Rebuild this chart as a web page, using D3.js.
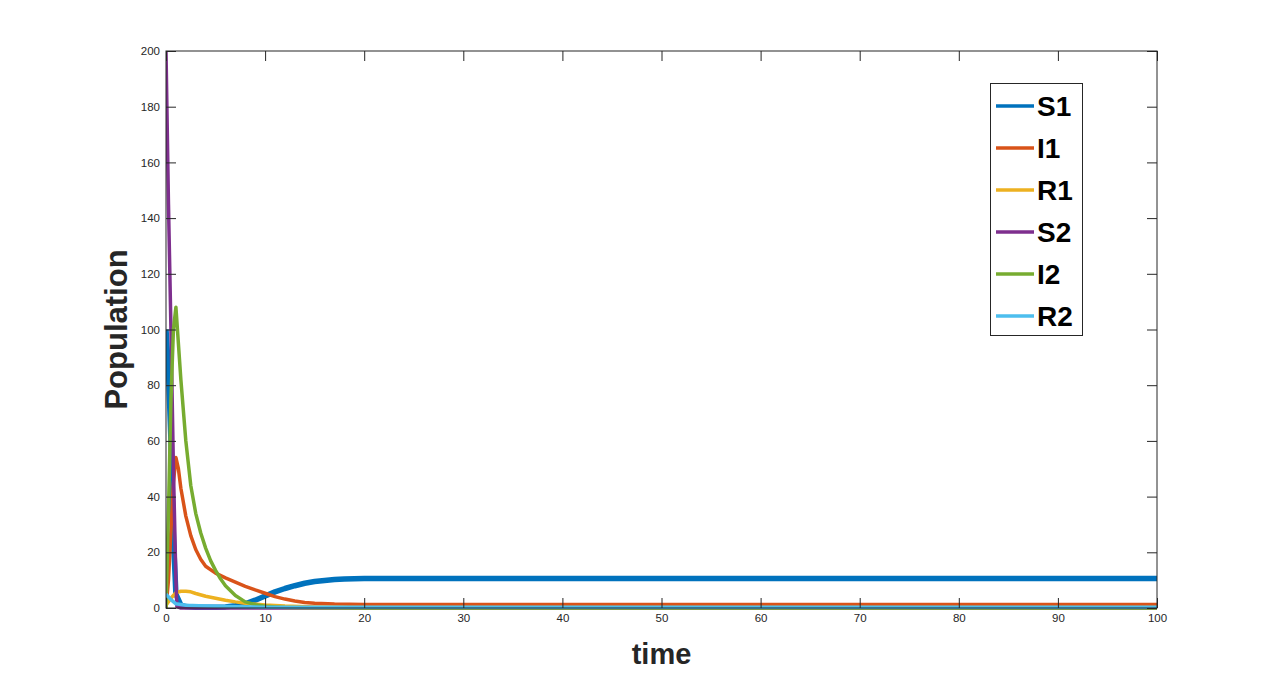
<!DOCTYPE html>
<html>
<head>
<meta charset="utf-8">
<script src="https://cdn.jsdelivr.net/npm/d3@7"></script>
<style>
  body { margin: 0; background: #fff; }
  svg { display: block; font-family: Arial, "Liberation Sans", sans-serif; }
</style>
</head>
<body>
<div id="chart"></div>
<script>
// values (time, population)
const s1 = [[0,100],[0.25,85],[0.5,60],[0.75,25],[1,5],[1.5,1],[2,0.5],[3,0.3],[5,0.3],[6,0.4],[7,0.8],[8,1.5],[9,2.8],[10,4.3],[11,5.8],[12,7],[13,8],[14,8.9],[15,9.5],[16,9.9],[17,10.2],[18,10.4],[20,10.55],[25,10.6],[100,10.6]];
const i1 = [[0,0],[0.25,10],[0.5,28],[0.75,45],[1,54],[1.25,50],[1.5,43],[2,33],[2.5,26],[3,21],[3.5,17.5],[4,15],[5,12.5],[6,10.8],[7,9.3],[8,7.8],[9,6.5],[10,5.3],[11,4.1],[12,3.2],[13,2.5],[14,2],[15,1.7],[17,1.4],[20,1.3],[100,1.3]];
const r1 = [[0,1],[0.5,3.5],[1,5.5],[1.5,6],[2,6],[2.5,5.8],[3,5.2],[4,4.2],[5,3.5],[6,2.8],[7,2.2],[8,1.7],[10,1.1],[12,0.7],[15,0.4],[20,0.2],[100,0.2]];
const s2 = [[0,200],[0.25,145],[0.5,100],[0.75,50],[1,10],[1.1,0.5],[1.5,0],[100,0]];
const i2 = [[0,0],[0.25,35],[0.5,75],[0.75,100],[1,108],[1.5,82],[2,60],[2.5,44],[3,34],[3.5,27],[4,21.5],[4.5,17],[5,13.5],[5.5,10.5],[6,8],[7,4.5],[8,2.2],[9,1.2],[10,0.6],[12,0.2],[15,0.05],[20,0],[100,0]];
const r2 = [[0,5],[0.5,3],[1,1.5],[2,1],[4,0.7],[6,0.5],[10,0.3],[100,0.3]];

const names = ["S1","I1","R1","S2","I2","R2"];
const colors = ["#0072BD","#D95319","#EDB120","#7E2F8E","#77AC30","#4DBEEE"];
const series = [s1, i1, r1, s2, i2, r2];
const xTicks = d3.range(0, 101, 10);
const yTicks = d3.range(0, 201, 20);

const width = 1280, height = 683;
const mLeft = 166, mRight = 1157, mTop = 51, mBottom = 608;

const svg = d3.select("#chart").append("svg")
  .attr("width", width).attr("height", height);

const x = d3.scaleLinear().domain([0, 100]).range([mLeft, mRight]);
const y = d3.scaleLinear().domain([0, 200]).range([mBottom, mTop]);

const line = d3.line().x(d => x(d[0])).y(d => y(d[1]));

// plot lines, clipped to the box
svg.append("clipPath").attr("id", "clip")
  .append("rect").attr("x", mLeft).attr("y", mTop - 2).attr("width", mRight - mLeft).attr("height", mBottom - mTop + 4);

svg.append("g").attr("clip-path", "url(#clip)")
  .selectAll("path")
  .data(series)
  .join("path")
  .attr("d", line)
  .attr("fill", "none")
  .attr("stroke", (d, i) => colors[i])
  .attr("stroke-width", (d, i) => i == 0 ? 5.5 : 3.5)
  .attr("stroke-linejoin", "round");

// axes, ticks pointing inwards like matlab
const tickLen = 10;
const axisStyle = g => {
  g.select(".domain").remove();
  g.selectAll("line").attr("stroke", "#262626");
  g.selectAll("text").attr("fill", "#262626").attr("font-size", 11.5);
};
svg.append("g").attr("transform", `translate(0,${mBottom})`)
  .call(d3.axisBottom(x).tickValues(xTicks).tickSize(-tickLen).tickPadding(6))
  .call(axisStyle);
svg.append("g").attr("transform", `translate(0,${mTop})`)
  .call(d3.axisTop(x).tickValues(xTicks).tickSize(-tickLen).tickFormat(""))
  .call(axisStyle);
svg.append("g").attr("transform", `translate(${mLeft},0)`)
  .call(d3.axisLeft(y).tickValues(yTicks).tickSize(-tickLen).tickPadding(6))
  .call(axisStyle);
svg.append("g").attr("transform", `translate(${mRight},0)`)
  .call(d3.axisRight(y).tickValues(yTicks).tickSize(-tickLen).tickFormat(""))
  .call(axisStyle);

svg.append("rect")
  .attr("x", mLeft).attr("y", mTop).attr("width", mRight - mLeft).attr("height", mBottom - mTop)
  .attr("fill", "none").attr("stroke", "#262626").attr("stroke-width", 1);

// axis labels
svg.append("text")
  .attr("x", (mLeft + mRight) / 2).attr("y", 664)
  .attr("text-anchor", "middle")
  .attr("font-size", 29).attr("font-weight", "bold").attr("fill", "#262626")
  .text("time");

svg.append("text")
  .attr("transform", `translate(127,${(mTop + mBottom) / 2}) rotate(-90)`)
  .attr("text-anchor", "middle")
  .attr("font-size", 31).attr("font-weight", "bold").attr("fill", "#262626")
  .text("Population");

// legend
const legend = svg.append("g");
legend.append("rect")
  .attr("x", 990.5).attr("y", 83.5).attr("width", 92).attr("height", 252)
  .attr("fill", "#fff").attr("stroke", "#262626").attr("stroke-width", 1);

const item = legend.selectAll("g.item")
  .data(names)
  .join("g")
  .attr("class", "item")
  .attr("transform", (d, i) => `translate(0,${106 + i * 42})`);

item.append("line")
  .attr("x1", 996).attr("x2", 1034)
  .attr("stroke", (d, i) => colors[i])
  .attr("stroke-width", 3.5);

item.append("text")
  .attr("x", 1037).attr("y", 0).attr("dy", "0.36em")
  .attr("font-size", 28).attr("font-weight", "bold").attr("fill", "#000")
  .text(d => d);
</script>
</body>
</html>
